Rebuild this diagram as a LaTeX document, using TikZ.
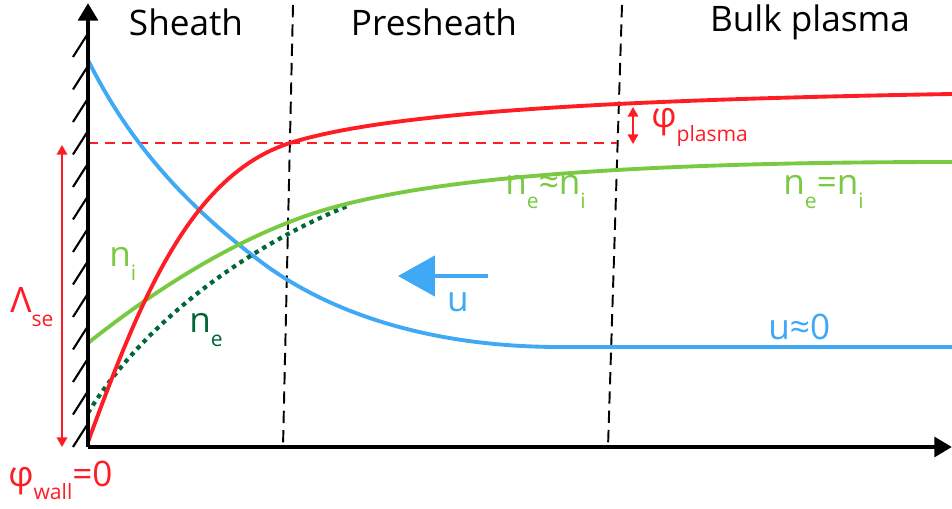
\documentclass[tikz,border=0pt]{standalone}
\usepackage{fontspec}
\setmainfont{Open Sans}
\usetikzlibrary{arrows.meta, calc}
\definecolor{rojoplasma}{HTML}{FF1D25}
\definecolor{azulflujo}{HTML}{3FA9F5}
\definecolor{verdeion}{HTML}{7AC943}
\definecolor{verdeelectron}{HTML}{006837}
\colorlet{colPotencial}{rojoplasma}
\colorlet{colVelocidad}{azulflujo}
\colorlet{colIones}{verdeion}
\colorlet{colElectrones}{verdeelectron}
\newcommand{\subind}[1]{\raisebox{-7.5pt}{\fontsize{12}{14}\selectfont #1}}
\tikzset{
  ejeBase/.style={line width=2.6pt, -{Triangle[length=10pt, width=11pt]}},
  rayado/.style={line width=1.2pt},
  limiteZona/.style={line width=1.1pt, dash pattern=on 7pt off 4pt},
  curvaBase/.style={line width=2.2pt},
  curvaPotencial/.style={curvaBase, colPotencial},
  curvaVelocidad/.style={curvaBase, colVelocidad},
  curvaIones/.style={curvaBase, colIones},
  curvaElectrones/.style={line width=2.4pt, colElectrones, dash pattern=on 2.5pt off 2.6pt},
  nivelPlasma/.style={line width=1.1pt, colPotencial, dash pattern=on 5.6pt off 4pt},
  flechaDoble/.style={{Triangle[length=5.5pt, width=6pt]}-{Triangle[length=5.5pt, width=6pt]},
    line width=1.1pt, colPotencial},
  flechaU/.style={-{Triangle[length=21pt, width=23pt]}, line width=1.8pt, colVelocidad},
  etiqueta/.style={font=\fontsize{20}{24}\selectfont, inner sep=0pt},
}
\begin{document}
\begin{tikzpicture}[x={(0.02cm,0)}, y={(0,-0.02cm)}]
  \useasboundingbox (0,0) rectangle (952,509);
  % ejes y pared
  \coordinate (origen) at (88,447);
  \coordinate (cimaY) at (88,3);
  \coordinate (finX) at (952,447);
  \foreach \k in {0,...,12}
    \draw[rayado] (73,{57+32.5*\k}) -- (87,{35+32.5*\k});
  % limites de zona
  \coordinate (limA1) at (293,5);
  \coordinate (limA2) at (283,447);
  \coordinate (limB1) at (622,5);
  \coordinate (limB2) at (608,447);
  \draw[limiteZona] (limA1) -- (limA2);
  \draw[limiteZona] (limB1) -- (limB2);
  % potencial del plasma
  \coordinate (nivIni) at (88,143);
  \coordinate (nivFin) at (617,143);
  \draw[nivelPlasma] (nivIni) -- (nivFin);
  % curvas
  \draw[curvaVelocidad] (88,60) .. controls (130,145) and (190,210) .. (268,267)
    .. controls (340,318) and (440,347) .. (560,347) -- (952,347);
  \draw[curvaElectrones] (88,413) .. controls (145,320) and (250,245) .. (350,205);
  \draw[curvaIones] (88,343) .. controls (170,278) and (240,240) .. (300,218)
    .. controls (400,181) and (600,162) .. (952,162);
  \draw[curvaPotencial] (88,442) .. controls (140,300) and (190,175) .. (290,143)
    .. controls (385,113) and (600,100) .. (952,94);
  \draw[ejeBase] (origen) -- (cimaY);
  \draw[ejeBase] (origen) -- (finX);
  % flechas
  \coordinate (lamArr) at (62,145);
  \coordinate (lamAba) at (62,447);
  \draw[flechaDoble] (lamArr) -- (lamAba);
  \coordinate (phiArr) at (633,107);
  \coordinate (phiAba) at (633,144);
  \draw[flechaDoble] (phiArr) -- (phiAba);
  \coordinate (uIni) at (488,276);
  \coordinate (uFin) at (398,276);
  \draw[flechaU] (uIni) -- (uFin);
  % textos
  \node[etiqueta] (sheath) at (186,22) {Sheath};
  \node[etiqueta] (presheath) at (434,22) {Presheath};
  \node[etiqueta] (bulk) at (810,22) {Bulk plasma};
  \node[etiqueta, anchor=base west, text=colPotencial] (lambda) at (10,313) {Λ\subind{se}};
  \node[etiqueta, anchor=base west, text=colPotencial] (phiPared) at (8,486) {φ\subind{wall}=0};
  \node[etiqueta, anchor=base west, text=colPotencial] (phiPlasma) at (651,128) {φ\subind{plasma}};
  \node[etiqueta, anchor=base west, text=colIones] (ni) at (109,267) {n\subind{i}};
  \node[etiqueta, anchor=base west, text=colElectrones] (ne) at (189,333) {n\subind{e}};
  \node[etiqueta, anchor=base west, text=colIones] (casiIgual) at (505,195) {n\subind{e}≈n\subind{i}};
  \node[etiqueta, anchor=base west, text=colIones] (igual) at (783,195) {n\subind{e}=n\subind{i}};
  \node[etiqueta, text=colVelocidad] (u) at (458,302) {u};
  \node[etiqueta, anchor=base west, text=colVelocidad] (uCero) at (768,339) {u≈0};
\end{tikzpicture}
\end{document}
